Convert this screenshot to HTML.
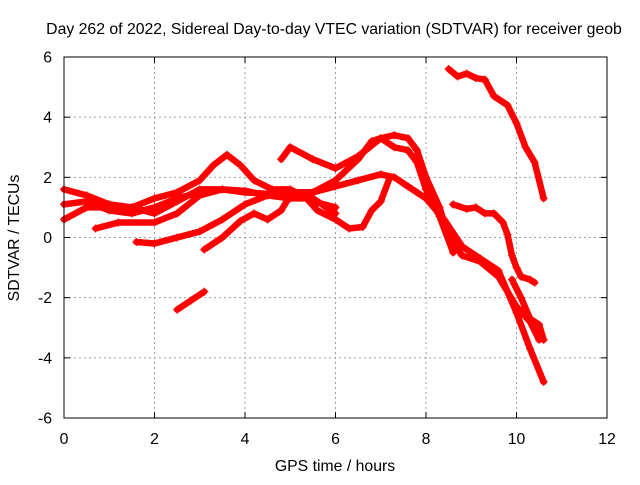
<!DOCTYPE html>
<html><head><meta charset="utf-8"><style>
body{margin:0;background:#fff}
svg{font-family:"Liberation Sans",sans-serif}
</style></head><body>
<svg id="chart" width="640" height="480">
<rect x="0" y="0" width="640" height="480" fill="#fff"/>
<text x="334" y="34" font-size="15.8" text-anchor="middle">Day 262 of 2022, Sidereal Day-to-day VTEC variation (SDTVAR) for receiver geob</text>
<text x="335" y="471" font-size="15.8" text-anchor="middle">GPS time / hours</text>
<text x="19" y="238" font-size="15.8" text-anchor="middle" transform="rotate(-90 19 238)">SDTVAR / TECUs</text>
<g id="grid"></g><g id="series"></g>
<rect x="64" y="57" width="543" height="361" fill="none" stroke="#000" stroke-width="1"/>
</svg>
<script>
const xTicks=[0,2,4,6,8,10,12];
const yTicks=[-6,-4,-2,0,2,4,6];
const track1=[[2.5,-2.4],[2.8,-2.1],[3.1,-1.8]];
const track2=[[1.6,-0.15],[2.0,-0.2],[2.5,0.0],[3.0,0.2],[3.5,0.6],[4.0,1.1],[4.5,1.4],[5.0,1.5],[5.5,1.5],[6.0,1.7],[6.5,1.9],[7.0,2.1],[7.3,2.0],[7.6,1.7],[8.0,1.3],[8.4,0.6],[8.8,-0.3],[9.2,-0.7],[9.6,-1.1],[10.0,-2.5],[10.3,-3.7],[10.6,-4.8]];
const track3=[[3.1,-0.4],[3.5,0.0],[3.9,0.55],[4.2,0.8],[4.5,0.6],[4.8,0.9],[5.0,1.4],[5.3,1.4],[5.6,0.9],[6.0,0.6],[6.3,0.3],[6.6,0.35],[6.8,0.9],[7.0,1.2],[7.2,2.0]];
const track4=[[0.7,0.3],[1.2,0.5],[2.0,0.5],[2.5,0.8],[3.0,1.4],[3.5,1.6],[4.0,1.55],[4.5,1.4],[5.0,1.3],[5.5,1.3],[6.0,0.8]];
const track5=[[0.0,0.6],[0.5,1.0],[1.0,1.0],[1.5,1.0],[2.0,1.3],[2.5,1.5],[3.0,1.9],[3.3,2.4],[3.6,2.75],[3.9,2.4],[4.2,1.9],[4.6,1.6],[5.0,1.6],[5.5,1.2],[6.0,1.0]];
const track6=[[4.8,2.6],[5.0,3.0],[5.5,2.6],[6.0,2.3],[6.5,2.7],[7.0,3.3],[7.3,3.4],[7.6,3.3],[7.8,2.9],[8.0,2.0],[8.3,1.0],[8.5,0.0],[8.8,-0.6],[9.2,-0.8],[9.6,-1.3],[10.0,-2.3],[10.3,-2.8],[10.5,-3.4]];
const track7=[[0.0,1.6],[0.5,1.4],[1.0,1.1],[1.5,1.0],[2.0,0.8],[2.5,1.2],[3.0,1.6],[3.5,1.6],[4.0,1.5],[4.5,1.45],[5.0,1.5],[5.5,1.5],[6.0,1.9],[6.5,2.6],[6.8,3.2],[7.0,3.3],[7.3,3.0],[7.6,2.9],[7.8,2.5],[8.0,1.6],[8.3,0.7],[8.6,-0.5]];
const track8=[[0.0,1.1],[0.5,1.2],[1.0,0.9],[1.5,0.8],[2.0,1.0],[2.5,1.3],[3.0,1.5]];
const track9=[[8.5,5.6],[8.7,5.35],[8.9,5.45],[9.1,5.3],[9.3,5.25],[9.5,4.7],[9.8,4.4],[10.0,3.8],[10.2,3.0],[10.4,2.5],[10.6,1.3]];
const track10=[[8.6,1.1],[8.9,0.95],[9.1,1.0],[9.3,0.8],[9.5,0.8],[9.7,0.5],[9.8,0.1],[9.9,-0.6],[10.0,-1.0],[10.1,-1.3],[10.3,-1.4],[10.4,-1.5]];
const track11=[[9.9,-1.4],[10.1,-2.0],[10.3,-2.7],[10.5,-2.9],[10.6,-3.4]];
const tracks=[track1,track2,track3,track4,track5,track6,track7,track8,track9,track10,track11];
const X=h=>64+h*(543/12), Y=v=>237.5-v*(361/12);
const NS='http://www.w3.org/2000/svg';
const grid=document.getElementById('grid'), ser=document.getElementById('series'), svg=document.getElementById('chart');
function mk(tag,attrs,parent){const e=document.createElementNS(NS,tag);for(const k in attrs)e.setAttribute(k,attrs[k]);parent.appendChild(e);return e;}
xTicks.forEach(t=>{const x=X(t);
 if(t>0&&t<12){const g=mk('line',{x1:x,y1:57,x2:x,y2:418,stroke:'#a0a0a0','stroke-dasharray':'2,3'},grid);}
 mk('line',{x1:x,y1:418,x2:x,y2:412,stroke:'#000'},grid);mk('line',{x1:x,y1:57,x2:x,y2:63,stroke:'#000'},grid);
 const l=mk('text',{x:x,y:444,'font-size':15.8,'text-anchor':'middle'},svg);l.textContent=t;
 
 });
yTicks.forEach(t=>{const y=Y(t);
 if(t>-6&&t<6){const g=mk('line',{x1:64,y1:y,x2:607,y2:y,stroke:'#a0a0a0','stroke-dasharray':'2,3'},grid);}
 mk('line',{x1:64,y1:y,x2:70,y2:y,stroke:'#000'},grid);mk('line',{x1:607,y1:y,x2:601,y2:y,stroke:'#000'},grid);
 const l=mk('text',{x:52,y:y+5.5,'font-size':15.8,'text-anchor':'end'},svg);l.textContent=t;
 
 });
tracks.forEach((tr,i)=>{
 const pl=mk('polyline',{points:tr.map(p=>X(p[0])+','+Y(p[1])).join(' '),fill:'none',stroke:'#ff0000','stroke-width':6.5,'stroke-linejoin':'round','stroke-linecap':'round'},ser);
 
 
 tr.forEach(p=>{const x=X(p[0]),y=Y(p[1]);
  const m=mk('path',{d:`M${x-4},${y}H${x+4}M${x},${y-4}V${y+4}`,stroke:'#ff0000','stroke-width':1.2},ser);
  
  });
});
</script>
</body></html>
